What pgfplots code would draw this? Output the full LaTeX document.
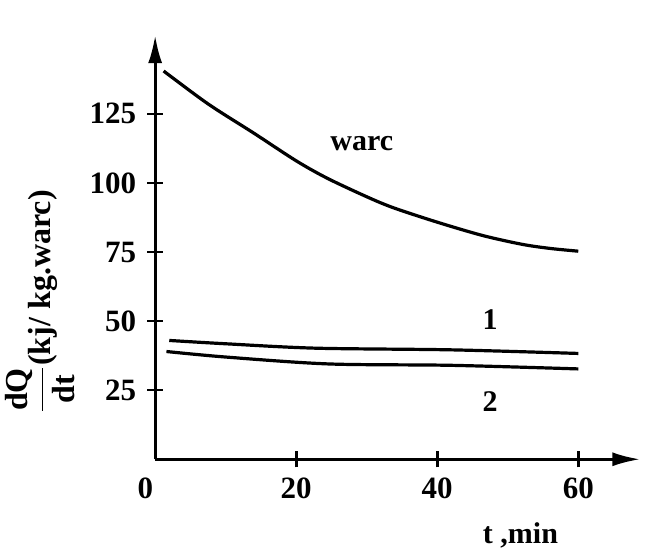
\documentclass[border=0pt]{standalone}
\usepackage{fontspec}
\setmainfont{Liberation Serif}
\usepackage{pgfplots}
\pgfplotsset{compat=1.18}
\usetikzlibrary{arrows.meta}
\begin{document}
\begin{tikzpicture}
\begin{axis}[
  scale only axis,
  width=242.5pt, height=212pt,
  xmin=0, xmax=68.8, ymin=0, ymax=153.5,
  axis lines=left,
  axis line style={line width=1.5pt, -{Latex[length=14pt,width=7pt]}},
  xtick={20,40,60}, ytick={25,50,75,100,125},
  tick align=center, major tick length=8pt,
  tick style={line width=1.3pt, black},
  /pgf/number format/assume math mode=true,
  ticklabel style={font=\fontsize{15.5}{15.5}\selectfont\bfseries},
  yticklabel style={xshift=-2pt},
  xticklabel style={yshift=-2pt},
  clip=false,
]
\path (axis cs:-22,-33.4) rectangle (axis cs:69.6,166.2);
\addplot[black, line width=1.6pt, smooth] coordinates {
 (1.2,140.5) (7.5,128.6) (14,118) (20,108) (24.4,101.7) (30,95) (33.8,91)
 (40,85.8) (46.4,81) (52,77.8) (56,76.3) (60,75.3)};
\addplot[black, line width=1.6pt, smooth] coordinates {
 (2,43) (10,41.8) (22.8,40.2) (42,39.6) (60,38.3)};
\addplot[black, line width=1.6pt, smooth] coordinates {
 (1.6,39) (10,37) (24.6,34.5) (42,34) (60,32.7)};
\node[font=\fontsize{15}{15}\selectfont\bfseries] at (axis cs:29.3,114.3) {warc};
\node[font=\fontsize{15}{15}\selectfont\bfseries] at (axis cs:47.5,50.5) {1};
\node[font=\fontsize{15}{15}\selectfont\bfseries] at (axis cs:47.5,20.9) {2};
\node[font=\fontsize{15.5}{15.5}\selectfont\bfseries] at (axis cs:-1.4,-10.5) {0};
\node[font=\fontsize{15}{15}\selectfont\bfseries] at (axis cs:51.8,-27.5) {t ,min};
\node[font=\fontsize{16}{16}\selectfont\bfseries, rotate=90, inner sep=0pt] at (axis cs:-16.3,57) {$\displaystyle\frac{\textbf{dQ}}{\textbf{dt}}$(kj/ kg.warc)};
\end{axis}
\end{tikzpicture}
\end{document}
